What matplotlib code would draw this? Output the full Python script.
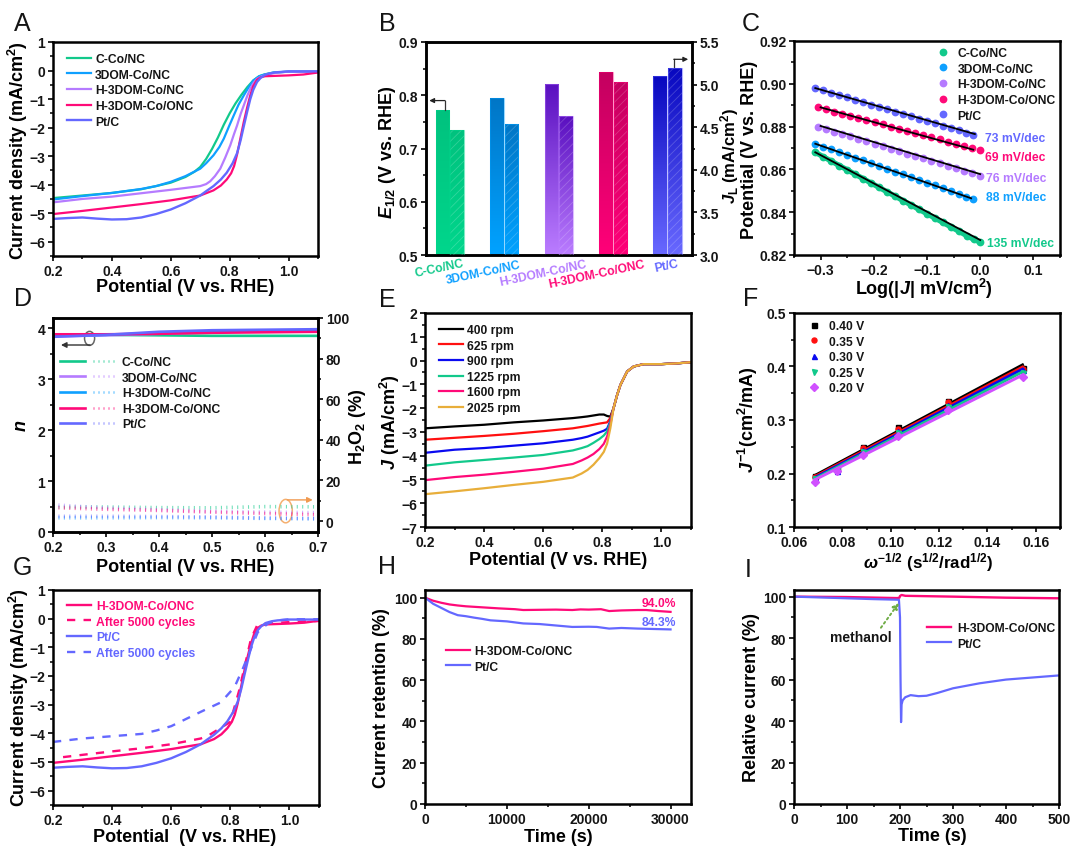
import numpy as np
import matplotlib
matplotlib.use("Agg")
import matplotlib.pyplot as plt
from matplotlib.lines import Line2D
from matplotlib.patches import Ellipse
from matplotlib.colors import LinearSegmentedColormap
from matplotlib.legend_handler import HandlerTuple
from matplotlib.ticker import MultipleLocator
from matplotlib.transforms import Affine2D, ScaledTranslation

W, H = 1080, 854

GREEN = '#12C98B'
BLUE = '#0FA0FF'
PURPLE = '#B57BFF'
PINK = '#FF0A78'
PTC = '#6468FF'
INK = '#151515'

names = ['C-Co/NC', '3DOM-Co/NC', 'H-3DOM-Co/NC', 'H-3DOM-Co/ONC', 'Pt/C']
colors = [GREEN, BLUE, PURPLE, PINK, PTC]

# panel A / G, polarisation curves
ccon_x = [.2, .3, .4, .5, .55, .6, .65, .68, .7, .72, .74, .76, .78, .8, .82, .84, .86, .88, .9, .92, .95, 1.0, 1.1]
ccon_y = [-4.47, -4.38, -4.29, -4.16, -4.05, -3.93, -3.73, -3.55, -3.38, -3.1, -2.75, -2.35, -1.9, -1.5, -1.15, -.85, -.58, -.35, -.2, -.13, -.07, -.04, -.04]
dom_x = [.2, .3, .4, .5, .55, .6, .65, .7, .72, .745, .765, .78, .798, .814, .83, .848, .865, .88, .9, .915, .95, 1.0, 1.1]
dom_y = [-4.52, -4.4, -4.29, -4.15, -4.05, -3.9, -3.7, -3.44, -3.25, -2.97, -2.68, -2.39, -1.95, -1.57, -1.2, -.87, -.58, -.35, -.2, -.15, -.07, -.04, -.04]
h3dom_x = [.2, .3, .4, .5, .6, .7, .72, .734, .75, .768, .785, .802, .815, .825, .838, .848, .86, .87, .88, .893, .91, .927, .96, 1.0, 1.1]
h3dom_y = [-4.62, -4.5, -4.42, -4.3, -4.18, -4.05, -3.98, -3.88, -3.7, -3.44, -3.05, -2.62, -2.22, -1.93, -1.5, -1.22, -.88, -.64, -.45, -.29, -.2, -.14, -.07, -.04, -.04]
onc_x = [.2, .3, .4, .5, .6, .7, .72, .745, .77, .79, .805, .815, .825, .835, .848, .86, .87, .88, .893, .905, .92, 1.0, 1.05, 1.1]
onc_y = [-5.03, -4.92, -4.8, -4.68, -4.55, -4.38, -4.3, -4.2, -4.03, -3.82, -3.6, -3.35, -2.95, -2.45, -1.8, -1.27, -.87, -.55, -.32, -.24, -.2, -.17, -.14, -.07]
pt_x = [.2, .25, .3, .35, .4, .45, .5, .55, .6, .65, .7, .72, .745, .77, .79, .81, .825, .837, .848, .86, .87, .88, .893, .905, .92, .94, .96, 1.0, 1.1]
pt_y = [-5.2, -5.17, -5.15, -5.19, -5.22, -5.21, -5.15, -5.03, -4.87, -4.65, -4.38, -4.23, -4.05, -3.82, -3.58, -3.25, -2.9, -2.45, -1.95, -1.42, -1.0, -.68, -.4, -.26, -.15, -.09, -.06, -.03, -.03]
onc_after_x = [.234, .3, .4, .5, .6, .7, .73, .8, .83, .85, .87, .89, .92, 1.0, 1.1]
onc_after_y = [-4.83, -4.75, -4.63, -4.52, -4.38, -4.18, -4.05, -3.6, -2.5, -1.6, -.7, -.25, -.17, -.12, -.08]
pt_after_x = [.2, .3, .4, .5, .55, .6, .65, .7, .768, .814, .842, .865, .893, .927, .96, 1.0, 1.1]
pt_after_y = [-4.3, -4.18, -4.1, -4.02, -3.9, -3.75, -3.5, -3.25, -2.92, -2.39, -1.75, -1.17, -.47, -.17, -.06, -.02, -.02]

# panel B
e12 = [.773, .795, .822, .843, .836]
jl = [4.47, 4.535, 4.63, 5.03, 5.2]
bar_top = ['#00C27E', '#0076C6', '#5A10C0', '#C40060', '#0808C0']
bar_bot = ['#00D68C', '#00A2FF', '#BA7CFF', '#FF0078', '#6868FF']
bar_shift = [-32, -62, -47, -50, -2]
bar_drop = [39, 52, 54, 57, 32]

# panel C
tafel_x_ccon = [-.31, -.295, -.28, -.265, -.25, -.235, -.22, -.205, -.19, -.175, -.16, -.145, -.13, -.115, -.1, -.085, -.07, -.055, -.04, -.025, -.012, 0]
tafel_y_ccon = [.868, .8659, .8639, .8618, .8598, .8577, .8557, .8536, .8516, .8495, .8475, .8454, .8434, .8413, .8393, .8372, .8352, .8331, .8311, .829, .8273, .826]
tafel_x_a = [-.31, -.295, -.28, -.265, -.25, -.235, -.22, -.205, -.19, -.175, -.16, -.145, -.13, -.115, -.1, -.085, -.07, -.055, -.04, -.027, -.013]
tafel_x_b = [-.305, -.29, -.275, -.26, -.244, -.229, -.214, -.198, -.183, -.168, -.153, -.137, -.122, -.107, -.092, -.076, -.061, -.046, -.03, -.015, 0]
tafel_y_dom = [.872, .8707, .8694, .8681, .8668, .8655, .8642, .8629, .8616, .8603, .859, .8577, .8564, .8551, .8538, .8525, .8512, .8499, .8486, .8473, .846]
tafel_y_h3 = [.880, .8789, .8777, .8766, .8754, .8743, .8731, .872, .8708, .8697, .8685, .8674, .8662, .8651, .8639, .8628, .8616, .8605, .8593, .8582, .857]
tafel_y_onc = [.889, .888, .887, .886, .885, .884, .883, .882, .881, .88, .879, .878, .877, .876, .875, .874, .873, .872, .871, .87, .869]
tafel_y_pt = [.898, .8969, .8958, .8947, .8936, .8925, .8914, .8903, .8892, .8881, .887, .8859, .8848, .8837, .8826, .8815, .8804, .8793, .8782, .8771, .876]
fit_x = [[-.31, 0], [-.31, -.017], [-.3, 0], [-.3, -.013], [-.31, -.01]]
fit_y = [[.868, .827], [.872, .8465], [.8803, .8578], [.889, .8692], [.898, .8765]]
slopes = ['135 mV/dec', '88 mV/dec', '76 mV/dec', '69 mV/dec', '73 mV/dec']
slope_x = [.0125, .011, .011, .0095, .0095]
slope_y = [.8258, .847, .856, .8659, .8747]

# panel D
d_x = [.2, .3, .4, .5, .6, .7]
n_ccon = [3.87, 3.87, 3.86, 3.85, 3.85, 3.85]
n_purple = [3.84, 3.86, 3.89, 3.92, 3.95, 3.96]
n_blue = [3.85, 3.87, 3.9, 3.93, 3.94, 3.95]
n_pink = [3.88, 3.88, 3.89, 3.91, 3.92, 3.93]
n_pt = [3.83, 3.87, 3.93, 3.96, 3.97, 3.98]
h2o2_ccon = [6.9, 6.9, 6.6, 6.5, 7.1, 7.0]
h2o2_purple = [8.0, 6.4, 5.6, 4.8, 4.4, 4.1]
h2o2_blue = [1.6, 1.6, 1.7, 1.6, 1.3, 1.1]
h2o2_pink = [6.6, 5.8, 5.2, 4.4, 3.7, 3.1]
h2o2_pt = [2.3, 2.3, 2.2, 2.0, 1.5, 1.2]
d_names = ['C-Co/NC', '3DOM-Co/NC', 'H-3DOM-Co/NC', 'H-3DOM-Co/ONC', 'Pt/C']
d_colors = [GREEN, PURPLE, BLUE, PINK, PTC]

# panel E
lsv_x = [.2, .3, .4, .5, .6, .7, .73, .75, .77, .79, .805, .816, .827]
rpm_names = ['400 rpm', '625 rpm', '900 rpm', '1225 rpm', '1600 rpm', '2025 rpm']
rpm_colors = ['#000000', '#FF1010', '#0A0AF0', GREEN, PINK, '#E8AE3A']
rpm_400 = [-2.85, -2.77, -2.7, -2.6, -2.52, -2.42, -2.38, -2.35, -2.31, -2.27, -2.27, -2.33, -2.36]
rpm_625 = [-3.33, -3.25, -3.17, -3.08, -2.97, -2.85, -2.79, -2.75, -2.7, -2.65, -2.62, -2.6, -2.42]
rpm_900 = [-3.88, -3.75, -3.68, -3.58, -3.48, -3.33, -3.26, -3.2, -3.11, -3.02, -2.95, -2.87, -2.55]
rpm_1225 = [-4.42, -4.28, -4.18, -4.08, -3.97, -3.78, -3.68, -3.6, -3.46, -3.3, -3.15, -2.98, -2.6]
rpm_1600 = [-5.03, -4.9, -4.8, -4.68, -4.55, -4.35, -4.2, -4.08, -3.93, -3.72, -3.5, -3.2, -2.7]
rpm_2025 = [-5.62, -5.5, -5.37, -5.23, -5.1, -4.92, -4.75, -4.6, -4.38, -4.1, -3.84, -3.5, -2.85]
tail_x = [.838, .85, .861, .884, .906, .94, 1.0, 1.05, 1.1]
tail_y = [-2.0, -1.45, -1.03, -.46, -.25, -.15, -.15, -.12, -.07]

# panel F
kl_x = [.0688, .0776, .0887, .1031, .1238, .1545]
kl_names = ['0.40 V', '0.35 V', '0.30 V', '0.25 V', '0.20 V']
kl_colors = ['#000000', '#FF1010', '#0A0AF0', GREEN, '#D050FF']
kl_markers = ['s', 'o', '^', 'v', 'D']
kl_40 = [.195, .208, .25, .286, .336, .398]
kl_35 = [.193, .206, .248, .284, .334, .396]
kl_30 = [.191, .205, .243, .279, .328, .393]
kl_25 = [.189, .207, .24, .276, .325, .388]
kl_20 = [.185, .205, .235, .271, .318, .381]
kl_fit_x = [.0685, .1545]
kl_fit = [[.196, .403], [.194, .399], [.192, .395], [.19, .39], [.188, .384]]

# panel H
ret_onc_x = [0, 1000, 2000, 3000, 4000, 5000, 7000, 9000, 11000, 12000, 14000, 16000, 18000, 19000, 20000, 21500, 22500, 24000, 26000, 27000, 28500, 30000]
ret_onc_y = [100, 98.5, 97.5, 96.7, 96.2, 95.8, 95.3, 94.8, 94.4, 94, 94.1, 94.2, 94, 94.3, 94.2, 94.4, 93.5, 93.8, 94, 94, 93.5, 93.1]
ret_pt_x = [0, 500, 1000, 2000, 3000, 4000, 5000, 6000, 7000, 8000, 10000, 12000, 14000, 16000, 18000, 20000, 21000, 22500, 24000, 26000, 28000, 30000]
ret_pt_y = [100, 98.5, 97, 95, 93, 91.5, 91, 90.3, 89.7, 89, 88.5, 87.5, 87.2, 86.5, 85.8, 85.9, 85.8, 85, 85.3, 85, 84.8, 84.6]

# panel I
rel_onc_x = [0, 100, 195, 199, 200, 203, 210, 300, 400, 500]
rel_onc_y = [100, 99.8, 99.3, 99.5, 100.3, 100.8, 100.4, 100, 99.5, 99.2]
rel_pt_x = [0, 50, 100, 150, 198, 200, 201, 202, 203, 205, 210, 220, 235, 250, 270, 300, 350, 400, 450, 500]
rel_pt_y = [100, 99.6, 99.2, 98.8, 98.5, 90, 60, 39.5, 48, 50, 51.5, 52.5, 52, 52.2, 53.5, 55.8, 58.2, 60, 61, 62]

plt.rcParams['font.family'] = ['Liberation Sans', 'DejaVu Sans']
plt.rcParams['font.weight'] = 'bold'
plt.rcParams['text.color'] = INK
plt.rcParams['axes.labelweight'] = 'bold'
plt.rcParams['mathtext.fontset'] = 'custom'
plt.rcParams['mathtext.rm'] = 'Liberation Sans:bold'
plt.rcParams['mathtext.bf'] = 'Liberation Sans:bold'
plt.rcParams['mathtext.it'] = 'Liberation Sans:italic:bold'
plt.rcParams['mathtext.default'] = 'rm'

TICK = 10
LABEL = 13
LEG = 8.7
ROW = .3

fig = plt.figure(figsize=(W / 100, H / 100), dpi=100, facecolor='white')
# all layout below is given in pixels of the reference image
pix = Affine2D().scale(1 / W, -1 / H).translate(0, 1) + fig.transFigure


def make_ax(l, t, r, b):
    ax = fig.add_axes([l / W, 1 - b / H, (r - l) / W, (b - t) / H])
    style(ax)
    return ax


def style(ax):
    for s in ax.spines.values():
        s.set_linewidth(1.8)
        s.set_color('#000000')
    ax.tick_params(which='major', length=3.5, width=1.3, labelsize=TICK, pad=2, colors=INK)
    ax.tick_params(which='minor', length=2, width=1.1)


def ticks(ax, xmaj=None, xmin=None, ymaj=None, ymin=None):
    if xmaj:
        ax.xaxis.set_major_locator(MultipleLocator(xmaj))
        ax.xaxis.set_minor_locator(MultipleLocator(xmin))
    if ymaj:
        ax.yaxis.set_major_locator(MultipleLocator(ymaj))
        ax.yaxis.set_minor_locator(MultipleLocator(ymin))


def xlabel(ax, text, x, y, size=LABEL):
    ax.set_xlabel(text, fontsize=size, va='center')
    ax.xaxis.set_label_coords(x, y, transform=pix)


def ylabel(ax, text, x, y, size=LABEL):
    ax.set_ylabel(text, fontsize=size, va='center')
    ax.yaxis.set_label_coords(x, y, transform=pix)


def legend(ax, x, y, hl=2.0, tp=.33, **kw):
    return ax.legend(loc='upper left', bbox_to_anchor=(x, y), bbox_transform=pix, frameon=False,
                     borderpad=0, borderaxespad=0, labelspacing=ROW, handlelength=hl, handletextpad=tp,
                     prop={'size': LEG, 'weight': 'bold'}, **kw)


for letter, x, y in [('A', 22, 24), ('B', 387, 24), ('C', 751, 24), ('D', 23, 299), ('E', 387, 300),
                     ('F', 751, 299), ('G', 22, 568), ('H', 387, 567), ('I', 748, 570)]:
    fig.text(x, y, letter, transform=pix, fontsize=18, fontweight='normal', ha='center', va='center')

# A
ax = make_ax(53, 43, 318, 257)
ax.plot(ccon_x, ccon_y, color=GREEN, lw=1.6, label=names[0])
ax.plot(dom_x, dom_y, color=BLUE, lw=1.6, label=names[1])
ax.plot(h3dom_x, h3dom_y, color=PURPLE, lw=1.6, label=names[2])
ax.plot(onc_x, onc_y, color=PINK, lw=1.6, label=names[3])
ax.plot(pt_x, pt_y, color=PTC, lw=1.7, label=names[4])
ax.set_xlim(.2, 1.1)
ax.set_ylim(-6.5, 1)
ticks(ax, .2, .1, 1, .5)
xlabel(ax, 'Potential (V vs. RHE)', 185, 288)
ylabel(ax, 'Current density (mA/cm$^{2}$)', 18, 151)
legend(ax, 67, 54)

# B
ax = make_ax(426, 43, 692, 256)
ax2 = ax.twinx()
style(ax2)
pos = np.arange(1, 6)
bw = .25
left = ax.bar(pos - .135, e12, bw, bottom=0, color='none', edgecolor='none')
right = ax2.bar(pos + .135, jl, bw, bottom=0, color='none', edgecolor='none')
ax.set_xlim(.56, 5.45)
ax.set_ylim(.5, .9)
ax2.set_ylim(3, 5.5)
plt.rcParams['hatch.linewidth'] = .6
for i in range(5):
    cmap = LinearSegmentedColormap.from_list('b%d' % i, [bar_top[i], bar_bot[i]])
    for a, patches, base in [(ax, left, .5), (ax2, right, 3)]:
        p = patches[i]
        im = a.imshow(np.linspace(0, 1, 64).reshape(-1, 1), cmap=cmap, aspect='auto', zorder=2,
                      extent=(p.get_x(), p.get_x() + bw, base, p.get_height()))
        im.set_clip_path(p)
    ax2.bar(pos[i] + .135, jl[i] - 3, bw, bottom=3, color='none', edgecolor=(1, 1, 1, .2), hatch='////', lw=0, zorder=3)
    ax2.bar(pos[i] + .135, jl[i] - 3, bw, bottom=3, color='none', edgecolor=bar_bot[i], alpha=.5, lw=.8, zorder=3)
    ax.bar(pos[i] - .135, e12[i] - .5, bw, bottom=.5, color='none', edgecolor=bar_bot[i], alpha=.4, lw=.8, zorder=3)
ax.set_xlim(.56, 5.45)
ax.set_ylim(.5, .9)
ax2.set_ylim(3, 5.5)
ax.set_xticks(pos)
ax.set_xticklabels(names, rotation=12, rotation_mode='anchor', ha='center', va='center', fontsize=LEG)
ax.tick_params(axis='x', length=0, pad=0)
for i, lab in enumerate(ax.get_xticklabels()):
    lab.set_color(colors[i])
    lab.set_transform(lab.get_transform() + ScaledTranslation(bar_shift[i] / 3 / 100, -bar_drop[i] / 3 / 100, fig.dpi_scale_trans))
ticks(ax, None, None, .1, .05)
ticks(ax2, None, None, .5, .25)
ylabel(ax, '$\\mathit{E}_{1/2}$ (V vs. RHE)', 387, 152)
ylabel(ax2, '$\\mathit{J}_{L}$ (mA/cm$^{2}$)', 730, 156, size=12)
ax.plot([.908, .908], [.773, .79], color='#333333', lw=.9, zorder=5)
ax.annotate('', xy=(.62, .79), xytext=(.91, .79), zorder=5,
            arrowprops=dict(arrowstyle='-|>', color='#222222', lw=.9, mutation_scale=7, shrinkA=0, shrinkB=0))
ax.plot([5.117, 5.117], [.851, .8675], color='#333333', lw=.9, zorder=5)
ax.annotate('', xy=(5.38, .8675), xytext=(5.115, .8675), zorder=5,
            arrowprops=dict(arrowstyle='-|>', color='#222222', lw=.9, mutation_scale=7, shrinkA=0, shrinkB=0))

# C
ax = make_ax(794, 42, 1060, 256)
tafel = [(tafel_x_ccon, tafel_y_ccon), (tafel_x_a, tafel_y_dom), (tafel_x_b, tafel_y_h3), (tafel_x_b, tafel_y_onc), (tafel_x_a, tafel_y_pt)]
ax.plot(tafel_x_ccon, tafel_y_ccon, color=GREEN, lw=3.8)
for i, (tx, ty) in enumerate(tafel):
    ax.plot(tx, ty, ls='none', marker='o', ms=5.6, color=colors[i], mec='none', label=names[i])
    ax.plot(fit_x[i], fit_y[i], color='black', lw=1.3)
    ax.text(slope_x[i], slope_y[i], slopes[i], color=colors[i], fontsize=LEG, va='center')
ax.set_xlim(-.35, .15)
ax.set_ylim(.82, .92)
ticks(ax, .1, .05, .02, .01)
xlabel(ax, 'Log(|$\\mathit{J}$| mV/cm$^{2}$)', 924, 289)
ylabel(ax, 'Potential (V vs. RHE)', 749, 150)
legend(ax, 935, 48, hl=1.4, tp=.45, numpoints=1)

# D
ax = make_ax(53, 319, 318, 533)
ax2 = ax.twinx()
style(ax2)
n_series = [n_ccon, n_purple, n_blue, n_pink, n_pt]
h_series = [h2o2_ccon, h2o2_purple, h2o2_blue, h2o2_pink, h2o2_pt]
dot = (0, (.3, 1.2))
handles = []
for i in range(5):
    solid, = ax.plot(d_x, n_series[i], color=d_colors[i], lw=1.9)
    ax2.plot(d_x, h_series[i], color=d_colors[i], lw=2.6, ls=dot, alpha=.6)
    handles.append((Line2D([], [], color=d_colors[i], lw=1.9),
                    Line2D([], [], color=d_colors[i], lw=1.8, ls=(0, (.4, 1.6)), alpha=.75)))
ax.set_xlim(.2, .7)
ax.set_ylim(0, 4.2)
ax2.set_ylim(-5.4, 100)
ticks(ax, .1, .05, 1, .5)
ticks(ax2, None, None, 20, 10)
xlabel(ax, 'Potential (V vs. RHE)', 185, 568)
ylabel(ax, '$\\mathit{n}$', 22, 426)
ylabel(ax2, 'H$_{2}$O$_{2}$ (%)', 357, 427)
ax2.legend(handles, d_names, loc='upper left', bbox_to_anchor=(60, 357), bbox_transform=pix, frameon=False,
           borderpad=0, borderaxespad=0, labelspacing=ROW, handlelength=4.8, handletextpad=.33,
           handler_map={tuple: HandlerTuple(ndivide=2, pad=.7)}, prop={'size': LEG, 'weight': 'bold'})
ax.add_patch(Ellipse((.269, 3.8), .019, .275, fill=False, ec='#666666', lw=1.1))
ax.annotate('', xy=(.215, 3.67), xytext=(.27, 3.67),
            arrowprops=dict(arrowstyle='-|>', color='#333333', lw=1, mutation_scale=8, shrinkA=0, shrinkB=0))
ax.add_patch(Ellipse((.639, .41), .025, .46, fill=False, ec='#F5B070', lw=1.1))
ax.annotate('', xy=(.69, .63), xytext=(.642, .63),
            arrowprops=dict(arrowstyle='-|>', color='#F09A50', lw=1, mutation_scale=8, shrinkA=0, shrinkB=0))

# E
ax = make_ax(425, 314, 691, 528)
rpm_series = [rpm_400, rpm_625, rpm_900, rpm_1225, rpm_1600, rpm_2025]
for i in range(6):
    ax.plot(lsv_x + tail_x, rpm_series[i] + tail_y, color=rpm_colors[i], lw=1.6, label=rpm_names[i])
ax.set_xlim(.2, 1.1)
ax.set_ylim(-7, 2)
ticks(ax, .2, .1, 1, .5)
xlabel(ax, 'Potential (V vs. RHE)', 558, 561)
ylabel(ax, '$\\mathit{J}$ (mA/cm$^{2}$)', 390, 422)
legend(ax, 439, 325)

# F
ax = make_ax(794, 314, 1060, 528)
kl_series = [kl_40, kl_35, kl_30, kl_25, kl_20]
for i in range(5):
    ax.plot(kl_x, kl_series[i], ls='none', marker=kl_markers[i], ms=3.6, color=kl_colors[i], label=kl_names[i])
    ax.plot(kl_fit_x, kl_fit[i], color=kl_colors[i], lw=2.1)
ax.set_xlim(.06, .17)
ax.set_ylim(.1, .5)
ticks(ax, .02, .01, .1, .05)
xlabel(ax, '$\\mathit{\\omega}^{-1/2}$ (s$^{1/2}$/rad$^{1/2}$)', 928, 563, size=12.2)
ylabel(ax, '$\\mathit{J}^{-1}$(cm$^{2}$/mA)', 748, 420)
legend(ax, 806, 321, hl=1.4, tp=.5, numpoints=1)

# G
ax = make_ax(53, 591, 319, 806)
ax.plot(onc_x, onc_y, color=PINK, lw=1.7, label='H-3DOM-Co/ONC')
ax.plot(onc_after_x, onc_after_y, color=PINK, lw=1.7, ls=(0, (3.5, 3.5)), label='After 5000 cycles')
ax.plot(pt_x, pt_y, color=PTC, lw=1.7, label='Pt/C')
ax.plot(pt_after_x, pt_after_y, color=PTC, lw=1.7, ls=(0, (3.5, 3.5)), label='After 5000 cycles')
ax.set_xlim(.2, 1.1)
ax.set_ylim(-6.5, 1)
ticks(ax, .2, .1, 1, .5)
xlabel(ax, 'Potential  (V vs. RHE)', 185, 838)
ylabel(ax, 'Current density (mA/cm$^{2}$)', 19, 698)
legend(ax, 67, 601, tp=.4, labelcolor='linecolor')

# H
ax = make_ax(425, 591, 691, 805)
ax.plot(ret_onc_x, ret_onc_y, color=PINK, lw=1.6, label='H-3DOM-Co/ONC')
ax.plot(ret_pt_x, ret_pt_y, color=PTC, lw=1.6, label='Pt/C')
ax.text(28570, 97.6, '94.0%', color=PINK, fontsize=LEG, ha='center', va='center')
ax.text(28570, 88.2, '84.3%', color=PTC, fontsize=LEG, ha='center', va='center')
ax.set_xlim(0, 32500)
ax.set_ylim(0, 103.7)
ticks(ax, 10000, 5000, 20, 10)
xlabel(ax, 'Time (s)', 558, 838)
ylabel(ax, 'Current retention (%)', 382, 698)
legend(ax, 446, 646)

# I
ax = make_ax(794, 591, 1059, 805)
ax.plot(rel_onc_x, rel_onc_y, color=PINK, lw=1.7, label='H-3DOM-Co/ONC')
ax.plot(rel_pt_x, rel_pt_y, color=PTC, lw=1.6, label='Pt/C')
ax.set_xlim(0, 500)
ax.set_ylim(0, 103.2)
ticks(ax, 100, 50, 20, 10)
xlabel(ax, 'Time (s)', 932, 837)
ylabel(ax, 'Relative current (%)', 752, 698)
legend(ax, 927, 623, tp=.5)
ax.text(127, 80.7, 'methanol', fontsize=10, ha='center', va='center')
ax.annotate('', xy=(198, 97), xytext=(164, 85),
            arrowprops=dict(arrowstyle='-|>', color='#70AD47', lw=1.4, ls=':', mutation_scale=9, shrinkA=0, shrinkB=0))

fig.savefig('out.png', dpi=100)
